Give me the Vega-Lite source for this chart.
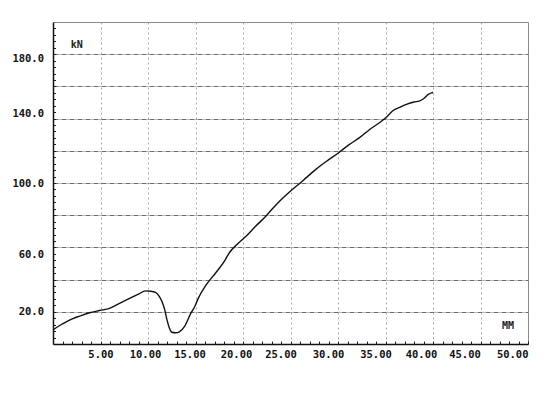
{
  "$schema": "https://vega.github.io/schema/vega-lite/v6.json",
  "autosize": "none",
  "width": 475,
  "height": 322,
  "padding": {"left": 53, "top": 22, "right": 20, "bottom": 49},
  "background": "white",
  "config": {
    "view": {"stroke": "#8a8a8a", "strokeWidth": 1},
    "axis": {
      "labelFont": "DejaVu Sans Mono",
      "labelFontWeight": "bold",
      "labelFontSize": 10.5,
      "labelColor": "#111",
      "domainColor": "#111",
      "domainWidth": 1.5,
      "tickColor": "#222",
      "tickWidth": 1,
      "labelOverlap": false,
      "labelBound": false,
      "title": null
    }
  },
  "datasets": {
    "curve": [
      {"mm": 0, "kN": 8.7}, {"mm": 0.7, "kN": 11.5}, {"mm": 1.4, "kN": 13.8}, {"mm": 2.1, "kN": 15.8},
      {"mm": 2.8, "kN": 17.3}, {"mm": 3.85, "kN": 19.4}, {"mm": 4.9, "kN": 20.8}, {"mm": 5.95, "kN": 22.1},
      {"mm": 7.0, "kN": 25.2}, {"mm": 8.06, "kN": 28.3}, {"mm": 9.1, "kN": 31.3}, {"mm": 9.7, "kN": 33.0},
      {"mm": 10.3, "kN": 32.8}, {"mm": 10.8, "kN": 32.0}, {"mm": 11.2, "kN": 29.5}, {"mm": 11.5, "kN": 26.0},
      {"mm": 11.75, "kN": 21.5}, {"mm": 12.0, "kN": 15.0}, {"mm": 12.25, "kN": 10.0}, {"mm": 12.5, "kN": 7.3},
      {"mm": 12.9, "kN": 7.0}, {"mm": 13.3, "kN": 7.6}, {"mm": 13.85, "kN": 11.0}, {"mm": 14.5, "kN": 19.0},
      {"mm": 14.9, "kN": 23.0}, {"mm": 15.3, "kN": 28.5}, {"mm": 16.1, "kN": 36.5}, {"mm": 17.2, "kN": 44.7},
      {"mm": 18.1, "kN": 52.0}, {"mm": 18.6, "kN": 57.0}, {"mm": 19.4, "kN": 62.0}, {"mm": 20.4, "kN": 67.4},
      {"mm": 21.3, "kN": 73.0}, {"mm": 22.3, "kN": 78.7}, {"mm": 23.1, "kN": 84.0}, {"mm": 23.9, "kN": 89.0},
      {"mm": 24.8, "kN": 94.0}, {"mm": 25.8, "kN": 98.9}, {"mm": 26.7, "kN": 103.5}, {"mm": 27.7, "kN": 108.6},
      {"mm": 28.8, "kN": 113.5}, {"mm": 30.0, "kN": 118.5}, {"mm": 31.1, "kN": 123.5}, {"mm": 32.3, "kN": 128.3},
      {"mm": 33.4, "kN": 133.5}, {"mm": 34.6, "kN": 138.5}, {"mm": 35.2, "kN": 141.5}, {"mm": 35.8, "kN": 145.0},
      {"mm": 36.5, "kN": 147.0}, {"mm": 37.2, "kN": 148.8}, {"mm": 38.0, "kN": 150.3}, {"mm": 38.6, "kN": 151.0},
      {"mm": 39.0, "kN": 152.3}, {"mm": 39.5, "kN": 155.0}, {"mm": 39.85, "kN": 156.0}, {"mm": 40.0, "kN": 156.2}
    ],
    "units": [
      {"mm": 2.5, "kN": 186, "label": "kN"},
      {"mm": 47.9, "kN": 11, "label": "MM"}
    ]
  },
  "encoding": {
    "x": {
      "field": "mm", "type": "quantitative",
      "scale": {"domain": [0, 50], "nice": false, "zero": false},
      "axis": {
        "values": [1,2,3,4,5,6,7,8,9,10,11,12,13,14,15,16,17,18,19,20,21,22,23,24,25,26,27,28,29,30,31,32,33,34,35,36,37,38,39,40,41,42,43,44,45,46,47,48,49,50],
        "tickSize": -3,
        "labelPadding": 8,
        "labelFlush": true,
        "labelExpr": "datum.value % 5 === 0 ? format(datum.value, '.2f') : ''",
        "labelOffset": {
          "condition": [
            {"test": "datum.value === 10", "value": -3},
            {"test": "datum.value === 15", "value": -6},
            {"test": "datum.value === 20", "value": -7},
            {"test": "datum.value === 25", "value": -10},
            {"test": "datum.value === 30", "value": -10},
            {"test": "datum.value === 35", "value": -10},
            {"test": "datum.value === 40", "value": -12},
            {"test": "datum.value === 45", "value": -16}
          ],
          "value": 0
        },
        "grid": true,
        "gridColor": "#a8a8a8",
        "gridDash": [2, 3],
        "gridWidth": 1,
        "gridOpacity": {"condition": {"test": "datum.value % 5 === 0 && datum.value < 50", "value": 1}, "value": 0}
      }
    },
    "y": {
      "field": "kN", "type": "quantitative",
      "scale": {"domain": [0, 200], "nice": false, "zero": false},
      "axis": {
        "values": [4,8,12,16,20,24,28,32,36,40,44,48,52,56,60,64,68,72,76,80,84,88,92,96,100,104,108,112,116,120,124,128,132,136,140,144,148,152,156,160,164,168,172,176,180,184,188,192,196],
        "tickSize": -2.5,
        "labelPadding": 12,
        "labelExpr": "datum.value % 40 === 20 ? format(datum.value, '.1f') : ''",
        "labelOffset": {
          "condition": [
            {"test": "datum.value === 60", "value": 7},
            {"test": "datum.value === 140", "value": -5},
            {"test": "datum.value === 180", "value": 4}
          ],
          "value": 0
        },
        "grid": true,
        "gridColor": "#6e6e6e",
        "gridDash": [5, 1, 1, 1],
        "gridWidth": 1,
        "gridOpacity": {"condition": {"test": "datum.value % 20 === 0", "value": 1}, "value": 0}
      }
    }
  },
  "layer": [
    {
      "data": {"name": "curve"},
      "mark": {"type": "line", "color": "#111", "strokeWidth": 1.4, "interpolate": "monotone"}
    },
    {
      "data": {"name": "units"},
      "mark": {"type": "text", "font": "DejaVu Sans Mono", "fontWeight": "bold", "fontSize": 10, "color": "#222"},
      "encoding": {
        "text": {"field": "label"}
      }
    }
  ]
}
